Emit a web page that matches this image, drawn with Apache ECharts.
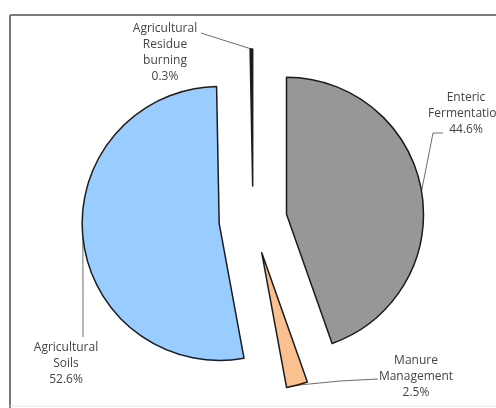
<!DOCTYPE html>
<html>
<head>
<meta charset="utf-8">
<title>Agricultural emissions by source</title>
<script src="https://cdn.jsdelivr.net/npm/echarts@6/dist/echarts.min.js"></script>
<style>
  html, body { margin: 0; padding: 0; background: #ffffff; }
  #chart { width: 496px; height: 408px; }
</style>
</head>
<body>
<div id="chart"></div>
<script>
// Emission sources (clockwise from 12 o'clock) and their shares in percent
const categories = [
  'Enteric\nFermentation',
  'Manure\nManagement',
  'Agricultural\nSoils',
  'Agricultural\nResidue\nburning'
];
const shares = [44.6, 2.5, 52.6, 0.3];
const sliceColors = ['#979797', '#fac08f', '#99ccff', '#1a1a1a'];

// Pie geometry: every slice is pulled out from the common centre
const CX = 253, CY = 220, RADIUS = 137, EXPLODE = 34;

// Label placement (label centre) and leader-line bends
const labelSpots = [
  { x: 466, y: 114, bend: [433, 133], end: [443, 133] },
  { x: 416, y: 377, bend: [340, 381], end: [378, 379] },
  { x: 66,  y: 364, bend: [83, 300],  end: [83, 337] },
  { x: 165, y: 53,  bend: [226, 41],  end: [201, 33] }
];

// Mid angle of each slice (radians, clockwise from 12 o'clock)
const total = shares.reduce((a, b) => a + b, 0);
let acc = 0;
const midAngles = shares.map(v => {
  const m = (acc + v / 2) / total * 2 * Math.PI;
  acc += v;
  return m;
});

// Centre of each exploded slice and the point on its arc at the mid angle
const sliceCentres = midAngles.map(m => [CX + EXPLODE * Math.sin(m), CY - EXPLODE * Math.cos(m)]);
const anchors = midAngles.map((m, i) => [
  sliceCentres[i][0] + RADIUS * Math.sin(m),
  sliceCentres[i][1] - RADIUS * Math.cos(m)
]);

const labelStyle = {
  show: true,
  position: 'outside',
  fontFamily: 'Open Sans',
  fontSize: 12,
  lineHeight: 16,
  color: '#454545',
  align: 'center',
  formatter: p => p.name + '\n' + p.value.toFixed(1) + '%'
};

// One pie series per slice; the other slices of that series stay invisible
const series = categories.map((cat, i) => ({
  type: 'pie',
  silent: true,
  center: sliceCentres[i],
  radius: RADIUS,
  startAngle: 90,
  clockwise: true,
  avoidLabelOverlap: false,
  emphasis: { disabled: true },
  labelLine: { lineStyle: { color: '#6e6e6e', width: 1 } },
  labelLayout: p => {
    if (p.dataIndex !== i) return {};
    const s = labelSpots[i];
    return {
      x: s.x,
      y: s.y,
      align: 'center',
      verticalAlign: 'middle',
      hideOverlap: false,
      labelLinePoints: [anchors[i], s.bend, s.end]
    };
  },
  data: categories.map((name, j) => ({
    name: name,
    value: shares[j],
    itemStyle: j === i
      ? { color: sliceColors[j], borderColor: '#1c1c1c', borderWidth: 1.5 }
      : { color: 'rgba(0,0,0,0)', borderWidth: 0 },
    label: j === i ? labelStyle : { show: false },
    labelLine: { show: j === i }
  }))
}));

const chart = echarts.init(document.getElementById('chart'), null, { renderer: 'canvas' });

chart.setOption({
  animation: false,
  backgroundColor: '#ffffff',
  graphic: [
    { type: 'line', shape: { x1: 10, y1: 15, x2: 496, y2: 15 },
      style: { stroke: '#7a7a7a', lineWidth: 2 }, z: 10 },
    { type: 'line', shape: { x1: 10, y1: 15, x2: 10, y2: 408 },
      style: { stroke: '#7a7a7a', lineWidth: 2 }, z: 10 },
    { type: 'line', shape: { x1: 10, y1: 406, x2: 496, y2: 406 },
      style: { stroke: '#e4e4e4', lineWidth: 1 }, z: 10 }
  ],
  series: series
});
</script>
</body>
</html>
